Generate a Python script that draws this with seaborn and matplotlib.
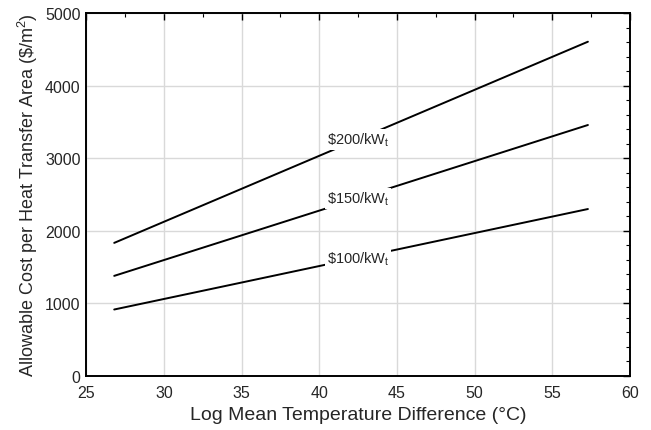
import pandas as pd
import matplotlib
matplotlib.use("Agg")
import matplotlib.pyplot as plt
from matplotlib.ticker import MultipleLocator
import seaborn as sns

# values
lmtd = [26.8, 35, 45, 57.3]
cost_200 = [1832, 2578, 3488, 4607]
cost_150 = [1377, 1936, 2618, 3458]
cost_100 = [913, 1285, 1740, 2299]
series_names = ["$200/kWt", "$150/kWt", "$100/kWt"]
label_text = [r"\$200/kW$_\mathrm{t}$", r"\$150/kW$_\mathrm{t}$", r"\$100/kW$_\mathrm{t}$"]
label_x = 42.5
label_y = [3255, 2445, 1625]

rows = []
for name, vals in zip(series_names, [cost_200, cost_150, cost_100]):
    for x, y in zip(lmtd, vals):
        rows.append({"LMTD": x, "Cost": y, "Series": name})
df = pd.DataFrame(rows)

sns.set_style("white")
plt.rcParams['font.family'] = ['Liberation Sans', 'DejaVu Sans']
plt.rcParams['mathtext.fontset'] = 'custom'
plt.rcParams['mathtext.rm'] = 'Liberation Sans'
plt.rcParams['mathtext.it'] = 'Liberation Sans:italic'

fig, ax = plt.subplots(figsize=(6.51, 4.31), dpi=100)
fig.subplots_adjust(left=0.1325, right=0.9675, top=0.967, bottom=0.126)

sns.lineplot(data=df, x="LMTD", y="Cost", hue="Series",
             palette=["black"] * 3, linewidth=1.4, legend=False, ax=ax)

for txt, y in zip(label_text, label_y):
    ax.text(label_x, y, txt, ha="center", va="center", fontsize=10.5,
            bbox=dict(facecolor="white", edgecolor="none", pad=1.5))

ax.set_xlim(25, 60)
ax.set_ylim(0, 5000)
ax.xaxis.set_major_locator(MultipleLocator(5))
ax.xaxis.set_minor_locator(MultipleLocator(2.5))
ax.yaxis.set_major_locator(MultipleLocator(1000))
ax.yaxis.set_minor_locator(MultipleLocator(200))
ax.grid(True, which="major", color="#d9d9d9", linewidth=1.0)
ax.tick_params(which="both", direction="in", top=True, right=True,
               labelsize=11.5, color="black")
ax.tick_params(which="major", length=5, width=1)
ax.tick_params(which="minor", length=3, width=0.8)
ax.tick_params(axis="x", which="major", pad=7)
ax.tick_params(axis="y", which="major", pad=4)
for s in ax.spines.values():
    s.set_color("black")
    s.set_linewidth(1.4)

ax.set_xlabel("Log Mean Temperature Difference (°C)", fontsize=14, labelpad=4)
ax.set_ylabel(r"Allowable Cost per Heat Transfer Area (\$/m$^2$)", fontsize=13, labelpad=4)

fig.savefig("out.png", dpi=100)
